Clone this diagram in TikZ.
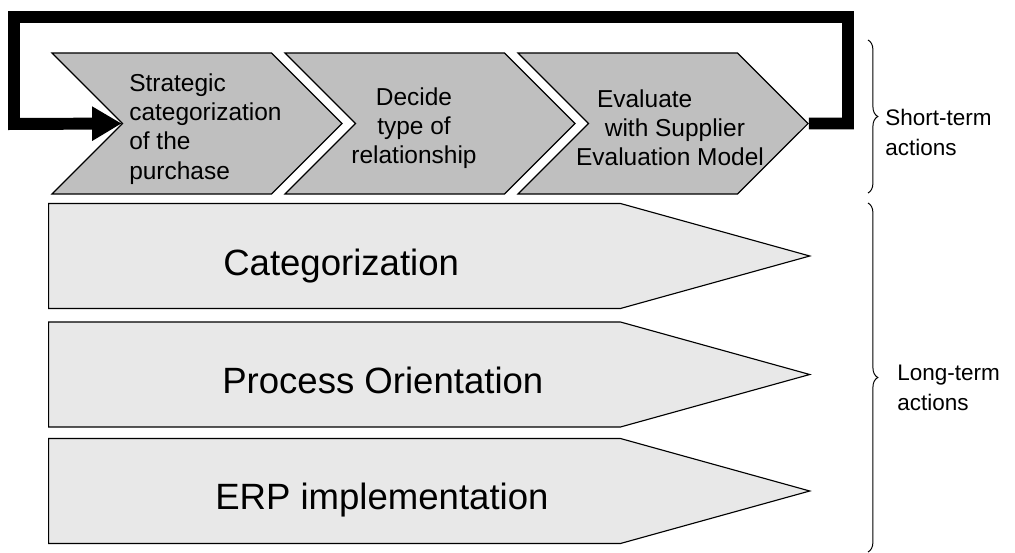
\documentclass[tikz,border=0pt]{standalone}
\usepackage{fontspec}
\setmainfont{Liberation Sans}
\usetikzlibrary{shapes.symbols,arrows.meta,decorations.pathreplacing}

\begin{document}
\begin{tikzpicture}[x=0.025cm, y=-0.025cm,
          chev/.style={signal, signal to=east, signal from=west, draw, line width=0.8pt, fill=gray!50, minimum width=7.25cm, minimum height=3.525cm, inner sep=0pt},
          longarrow/.style={signal, signal to=east, signal pointer angle=31, draw, line width=0.8pt, fill=gray!18, minimum width=19.025cm, minimum height=2.625cm, inner sep=0pt, anchor=west},
          chevtext/.style={font=\fontsize{17.4}{20.8}\selectfont, align=center, inner sep=0pt},
          bartext/.style={font=\fontsize{26}{31}\selectfont, inner sep=0pt, anchor=base west},
          sidetext/.style={font=\fontsize{16}{21.3}\selectfont, align=left, anchor=west, inner sep=0pt},
          feedback/.style={line width=8.5pt},
          sidebrace/.style={decorate, decoration={brace, amplitude=7pt}, line width=0.7pt}
        ]
          \useasboundingbox (0,0) rectangle (1015,553);

          % short-term chain
          \node[chev] (strategic) at (197,123.5) {};
          \node[chev] (decide) at (430,123.5) {};
          \node[chev] (evaluate) at (663,123.5) {};
          \node[chevtext, align=left, anchor=west] (strategictxt) at (129,129) {Strategic\\categorization\\of the\\purchase};
          \node[chevtext] (decidetxt) at (414,128) {Decide\\type of\\relationship};
          \node[chevtext] (evaluatetxt) at (670,128) {Evaluate\hspace*{36pt}\\\hspace*{7pt}with Supplier\\Evaluation Model};

          % long-term bars
          \node[longarrow] (cat) at (48,256) {};
          \node[longarrow] (proc) at (48,374.5) {};
          \node[longarrow] (erp) at (48,491) {};
          \node[bartext] (cattxt) at (223,275) {Categorization};
          \node[bartext] (proctxt) at (222,393) {Process Orientation};
          \node[bartext] (erptxt) at (215,509) {ERP implementation};

          % feedback loop
          \draw[feedback, -{Triangle[length=21pt,width=23pt]}] (evaluate.east) -| (848,17) -| (14,124) -- (strategic.west);

          % braces
          \draw[sidebrace] (868,40) -- (868,193);
          \draw[sidebrace] (868,203) -- (868,552);
          \node[sidetext] (short) at (885,132) {Short-term\\actions};
          \node[sidetext] (long) at (897,388) {Long-term\\actions};
        \end{tikzpicture}
\end{document}
